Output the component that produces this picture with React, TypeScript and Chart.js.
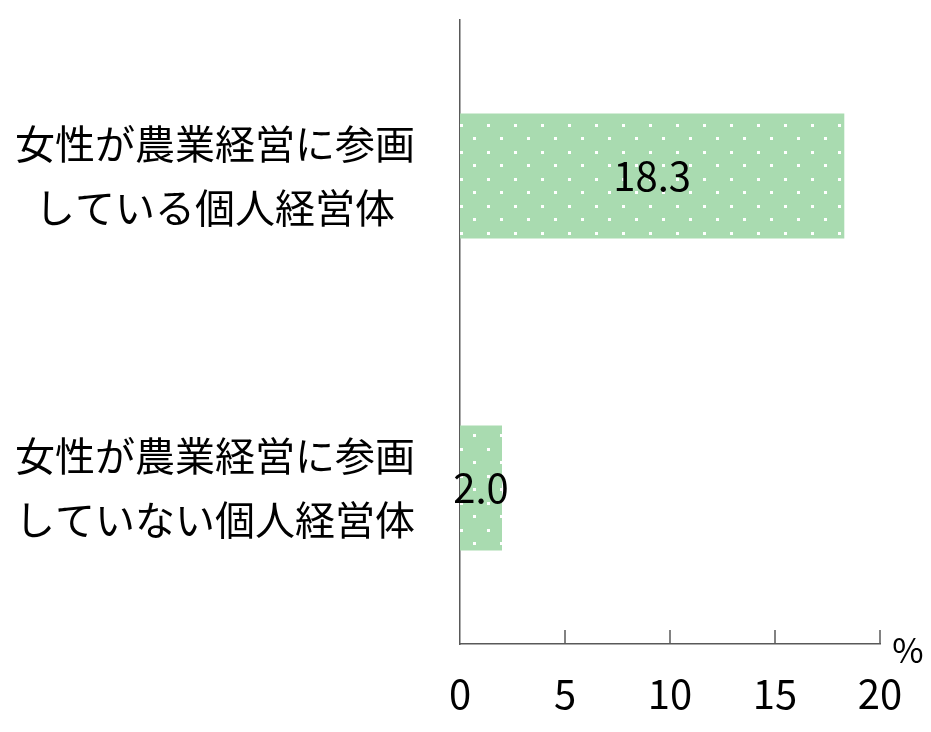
import { useEffect, useRef } from 'react';
import { Chart, registerables } from 'chart.js';

Chart.register(...registerables);

const categories = [
  ['女性が農業経営に参画', 'している個人経営体'],
  ['女性が農業経営に参画', 'していない個人経営体'],
];
const shares = [18.3, 2.0];
const xTicks = [0, 5, 10, 15, 20];

const FONT = '"Noto Sans CJK JP", "Noto Sans", sans-serif';
const AXIS_COLOR = '#595959';

// white dot pattern on light green
function makeDotPattern(ctx: CanvasRenderingContext2D) {
  const tile = document.createElement('canvas');
  tile.width = 27;
  tile.height = 27;
  const t = tile.getContext('2d')!;
  t.fillStyle = '#a9dbb0';
  t.fillRect(0, 0, 27, 27);
  t.fillStyle = '#ffffff';
  t.fillRect(1, 16, 3, 3);
  t.fillRect(14, 2, 3, 3);
  return ctx.createPattern(tile, 'repeat')!;
}

const overlayPlugin = {
  id: 'overlay',
  afterDraw(chart: any) {
    const { ctx, scales } = chart;
    const x = scales.x;
    const axisY = x.top;

    // inward tick marks
    ctx.save();
    ctx.strokeStyle = AXIS_COLOR;
    ctx.lineWidth = 1.5;
    xTicks.slice(1).forEach((v) => {
      const px = x.getPixelForValue(v);
      ctx.beginPath();
      ctx.moveTo(px, axisY);
      ctx.lineTo(px, axisY - 14);
      ctx.stroke();
    });

    // unit
    ctx.fillStyle = '#000';
    ctx.font = `34px ${FONT}`;
    ctx.textAlign = 'center';
    ctx.textBaseline = 'middle';
    ctx.fillText('%', x.right + 28, axisY + 6);

    // value labels
    ctx.font = `40px ${FONT}`;
    const meta = chart.getDatasetMeta(0);
    meta.data.forEach((bar: any, i: number) => {
      const cx = (bar.base + bar.x) / 2;
      ctx.fillText(shares[i].toFixed(1), cx, bar.y);
    });
    ctx.restore();
  },
};

export default function App() {
  const canvasRef = useRef<HTMLCanvasElement>(null);

  useEffect(() => {
    document.body.style.margin = '0';
    const canvas = canvasRef.current;
    if (!canvas) return;
    const ctx = canvas.getContext('2d');
    if (!ctx) return;

    const chart = new Chart(ctx, {
      type: 'bar',
      data: {
        labels: categories,
        datasets: [
          {
            data: shares,
            backgroundColor: makeDotPattern(ctx),
            borderWidth: 0,
            categoryPercentage: 0.8,
            barPercentage: 0.5,
          },
        ],
      },
      options: {
        indexAxis: 'y',
        animation: false,
        responsive: true,
        maintainAspectRatio: false,
        layout: { padding: { top: 20, right: 51, left: 0, bottom: 0 } },
        plugins: {
          legend: { display: false },
          tooltip: { enabled: false },
        },
        scales: {
          x: {
            min: 0,
            max: 20,
            ticks: {
              stepSize: 5,
              color: '#000',
              font: { family: FONT, size: 40 },
              padding: 26,
              maxRotation: 0,
            },
            grid: { display: false, drawTicks: false },
            border: { display: true, color: AXIS_COLOR, width: 1.5 },
            afterFit: (scale: any) => {
              scale.height = 88;
              scale.paddingLeft = 0;
              scale.paddingRight = 0;
            },
          },
          y: {
            ticks: {
              color: '#000',
              font: { family: FONT, size: 40, lineHeight: 1.6 },
              crossAlign: 'center',
              padding: 45,
            },
            grid: { display: false, drawTicks: false },
            border: { display: true, color: AXIS_COLOR, width: 1.5 },
            afterFit: (scale: any) => {
              scale.width = 460;
              scale.paddingTop = 0;
              scale.paddingBottom = 0;
            },
          },
        },
      },
      plugins: [overlayPlugin],
    });

    return () => chart.destroy();
  }, []);

  return (
    <div style={{ width: 931, height: 732, position: 'relative' }}>
      <canvas ref={canvasRef}></canvas>
    </div>
  );
}
